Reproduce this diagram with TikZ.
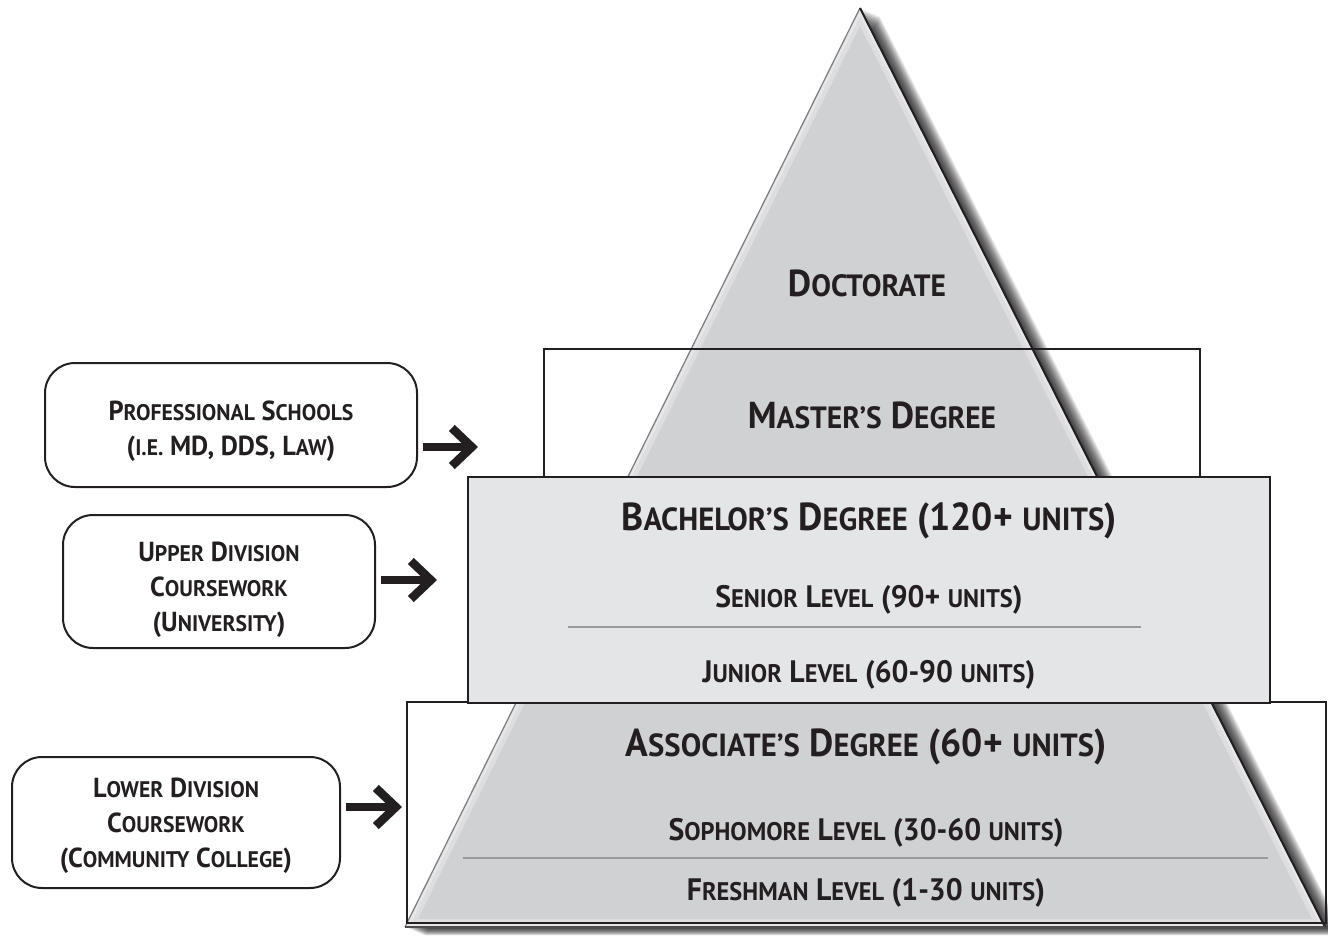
\documentclass[tikz,border=0pt]{standalone}
\usepackage{fontspec}
\setmainfont{PT Sans}[FakeStretch=0.96]
\usetikzlibrary{arrows.meta}

\definecolor{ink}{HTML}{231F20}
\definecolor{pyrgray}{HTML}{D0D1D3}
\definecolor{bachgray}{HTML}{E4E5E7}
\definecolor{rulegray}{HTML}{9A9A9A}

% small letters of the fake small caps
\newcommand\lc[1]{\scalebox{0.82}{\MakeUppercase{#1}}}

\tikzset{
  levelbox/.style={draw=ink,line width=2pt,rectangle,inner sep=0pt},
  sidebox/.style={draw=ink,line width=2pt,rounded corners=30pt,inner sep=0pt},
  sidetext/.style={align=center,inner sep=0pt,text=ink,font=\bfseries\fontsize{27.5}{35}\selectfont},
  bigarrow/.style={ink,line width=8.5pt,shorten <=5pt,-{Straight Barb[length=20pt,width=38pt]}},
  toptitle/.style={anchor=base,text=ink,font=\bfseries\fontsize{37.5}{40}\selectfont},
  title/.style={anchor=base,text=ink,font=\bfseries\fontsize{39}{40}\selectfont},
  sublevel/.style={anchor=base,text=ink,font=\bfseries\fontsize{31}{34}\selectfont},
}

\begin{document}
\begin{tikzpicture}[x=1pt,y=-1pt]
\useasboundingbox (0,0) rectangle (1328,937);

% shadow of the pyramid
\foreach \i in {1,...,14}
  \fill[black,opacity=0.09,shift={(\i*1.4,\i*0.6)}] (860,8) -- (405,927) -- (1325,927) -- cycle;

% pyramid
\coordinate (apex) at (860,8);
\coordinate (baseL) at (405,927);
\coordinate (baseR) at (1325,927);
\fill[pyrgray] (apex) -- (baseL) -- (baseR) -- cycle;
\begin{scope}
  \clip (apex) -- (baseL) -- (baseR) -- cycle;
  \draw[white,opacity=0.3,line width=16pt] (apex) -- (baseL) -- (baseR) -- cycle;
  \draw[white,opacity=0.3,line width=7pt] (apex) -- (baseL) -- (baseR) -- cycle;
\end{scope}
\draw[gray,line width=1.3pt] (apex) -- (baseL);
\draw[ink,line width=2pt] (apex) -- (baseR);
\draw[ink!80,line width=2pt] (baseL) -- (baseR);

% level boxes
\node[levelbox,minimum width=656pt,minimum height=128pt] (masterbox) at (872,413) {};
\node[levelbox,minimum width=919pt,minimum height=221pt] (assocbox) at (866.5,812.5) {};
\node[levelbox,fill=bachgray,minimum width=802pt,minimum height=226pt] (bachbox) at (869,590) {};

% thin rules between levels
\draw[rulegray,line width=2pt] (568,627) -- (1141,627);
\draw[rulegray,line width=2pt] (463,858) -- (1268,858);

% level texts
\node[toptitle] (doct) at (867,296) {D\lc{octorate}};
\node[toptitle] (master) at (872,428) {M\lc{aster’s} D\lc{egree}};
\node[title] (bach) at (869,530) {B\lc{achelor’s} D\lc{egree} (120+ \lc{units})};
\node[sublevel] (senior) at (869,607) {S\lc{enior} L\lc{evel} (90+ \lc{units})};
\node[sublevel] (junior) at (869,682) {J\lc{unior} L\lc{evel} (60-90 \lc{units})};
\node[title] (assoc) at (866,756) {A\lc{ssociate’s} D\lc{egree} (60+ \lc{units})};
\node[sublevel] (soph) at (866,840) {S\lc{ophomore} L\lc{evel} (30-60 \lc{units})};
\node[sublevel] (fresh) at (866,900) {F\lc{reshman} L\lc{evel} (1-30 \lc{units})};

% side boxes
\node[sidebox,minimum width=372pt,minimum height=124pt] (profbox) at (231,425) {};
\node[sidebox,minimum width=312pt,minimum height=133pt] (upperbox) at (219,581.5) {};
\node[sidebox,minimum width=328pt,minimum height=131pt] (lowerbox) at (176,822.5) {};
\node[sidetext] (proftext) at ([yshift=-6pt]profbox.center)
  {P\lc{rofessional} S\lc{chools}\\(\lc{i.e.} MD, DDS, L\lc{aw})};
\node[sidetext] (uppertext) at ([yshift=-8pt]upperbox.center)
  {U\lc{pper} D\lc{ivision}\\C\lc{oursework}\\(U\lc{niversity})};
\node[sidetext] (lowertext) at ([yshift=-3pt]lowerbox.center)
  {L\lc{ower} D\lc{ivision}\\C\lc{oursework}\\(C\lc{ommunity} C\lc{ollege})};

% arrows
\coordinate (profend) at (478,447);
\coordinate (upperend) at (437,580);
\coordinate (lowerend) at (402,807);
\draw[bigarrow] (profbox.east |- profend) -- (profend);
\draw[bigarrow] (upperbox.east |- upperend) -- (upperend);
\draw[bigarrow] (lowerbox.east |- lowerend) -- (lowerend);
\end{tikzpicture}
\end{document}
